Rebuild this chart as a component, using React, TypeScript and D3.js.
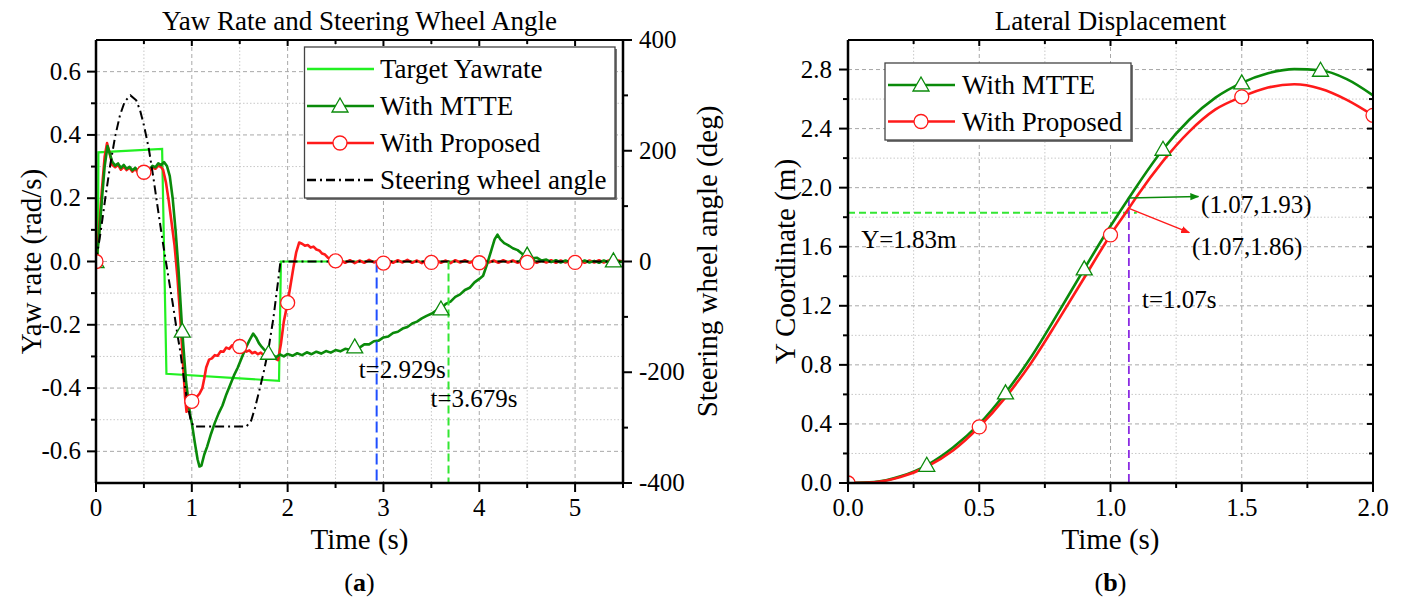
import React from 'react';
import * as d3 from 'd3';

const FONT = '"Liberation Serif", "Times New Roman", serif';

// ---------- Left chart data (a) ----------
const leftXTicks = [0, 1, 2, 3, 4, 5];
const leftYTicks = [-0.6, -0.4, -0.2, 0, 0.2, 0.4, 0.6];
const leftYLabels = ['-0.6', '-0.4', '-0.2', '0.0', '0.2', '0.4', '0.6'];
const steerTicks = [-400, -200, 0, 200, 400];
const steerLabels = ['-400', '-200', '0', '200', '400'];

const targetYaw: [number, number][] = [
  [0, 0], [0.02, 0], [0.025, 0.345], [0.69, 0.356], [0.735, -0.355], [1.91, -0.377], [1.93, 0], [5.5, 0],
];

const steerAngle: [number, number][] = [
  [0, 0], [0.05, 55], [0.1, 118], [0.15, 176], [0.2, 226], [0.25, 264], [0.3, 289], [0.36, 300],
  [0.42, 291], [0.46, 273], [0.5, 246], [0.55, 205], [0.6, 150], [0.65, 90], [0.7, 32], [0.75, -22],
  [0.8, -75], [0.85, -132], [0.88, -163], [0.92, -215], [0.96, -262], [0.99, -288], [1.02, -298],
  [1.57, -298], [1.62, -287], [1.66, -264], [1.7, -236], [1.75, -200], [1.8, -158], [1.85, -104],
  [1.9, -36], [1.925, 0], [5.5, 0],
];

const mtteYaw: [number, number][] = [
  [0, 0], [0.03, 0.07], [0.06, 0.19], [0.09, 0.3], [0.12, 0.365], [0.14, 0.345], [0.17, 0.315], [0.2, 0.303],
  [0.23, 0.31], [0.26, 0.296], [0.29, 0.305], [0.32, 0.293], [0.35, 0.299], [0.38, 0.288], [0.41, 0.296],
  [0.44, 0.287], [0.47, 0.294], [0.5, 0.29], [0.53, 0.297], [0.56, 0.291], [0.59, 0.302], [0.62, 0.298],
  [0.65, 0.31], [0.68, 0.305], [0.71, 0.314], [0.74, 0.302], [0.77, 0.27], [0.8, 0.2], [0.83, 0.1],
  [0.86, -0.02], [0.9, -0.22], [0.94, -0.38], [0.98, -0.48], [1.0, -0.51], [1.03, -0.57], [1.06, -0.625],
  [1.08, -0.648], [1.1, -0.645], [1.13, -0.61], [1.16, -0.585], [1.2, -0.545], [1.24, -0.51], [1.28, -0.48],
  [1.32, -0.455], [1.36, -0.42], [1.4, -0.39], [1.44, -0.36], [1.48, -0.335], [1.52, -0.305], [1.56, -0.275],
  [1.6, -0.25], [1.64, -0.228], [1.67, -0.24], [1.7, -0.258], [1.73, -0.27], [1.76, -0.28], [1.8, -0.29],
  [1.84, -0.295], [1.88, -0.302], [1.92, -0.294], [1.96, -0.3], [2.0, -0.292], [2.05, -0.298], [2.1, -0.29],
  [2.15, -0.296], [2.2, -0.287], [2.25, -0.293], [2.3, -0.285], [2.35, -0.291], [2.4, -0.283], [2.45, -0.288],
  [2.5, -0.28], [2.55, -0.284], [2.6, -0.276], [2.65, -0.279], [2.7, -0.27], [2.75, -0.272], [2.8, -0.262],
  [2.85, -0.262], [2.9, -0.252], [2.95, -0.25], [3.0, -0.24], [3.05, -0.237], [3.1, -0.226], [3.15, -0.222],
  [3.2, -0.212], [3.25, -0.207], [3.3, -0.196], [3.35, -0.19], [3.4, -0.18], [3.45, -0.172], [3.5, -0.165],
  [3.55, -0.155], [3.6, -0.15], [3.65, -0.134], [3.7, -0.127], [3.75, -0.112], [3.8, -0.104], [3.85, -0.09],
  [3.9, -0.083], [3.95, -0.066], [4.0, -0.055], [4.04, -0.045], [4.08, -0.01], [4.12, 0.03], [4.16, 0.07],
  [4.19, 0.085], [4.22, 0.07], [4.26, 0.058], [4.3, 0.052], [4.35, 0.042], [4.4, 0.036], [4.45, 0.024],
  [4.5, 0.02], [4.55, 0.01], [4.6, 0.012], [4.65, 0.003], [4.7, 0.006], [4.75, -0.002], [4.8, 0.004],
  [4.85, -0.003], [4.9, 0.003], [4.95, -0.004], [5.0, 0.002], [5.05, -0.004], [5.1, 0.003], [5.15, -0.003],
  [5.2, 0.002], [5.25, -0.004], [5.3, 0.003], [5.35, -0.003], [5.4, 0.002], [5.45, -0.003], [5.5, 0.001],
];

const propYaw: [number, number][] = [
  [0, 0], [0.03, 0.09], [0.06, 0.22], [0.09, 0.33], [0.115, 0.374], [0.14, 0.345], [0.17, 0.305], [0.2, 0.298],
  [0.23, 0.306], [0.26, 0.29], [0.29, 0.3], [0.32, 0.289], [0.35, 0.296], [0.38, 0.284], [0.41, 0.292],
  [0.44, 0.281], [0.47, 0.288], [0.5, 0.282], [0.53, 0.29], [0.56, 0.286], [0.59, 0.297], [0.62, 0.293],
  [0.65, 0.303], [0.68, 0.298], [0.7, 0.29], [0.73, 0.25], [0.76, 0.19], [0.79, 0.12], [0.82, 0.05],
  [0.85, -0.05], [0.88, -0.18], [0.91, -0.33], [0.93, -0.43], [0.945, -0.475], [0.97, -0.455], [1.0, -0.442],
  [1.04, -0.432], [1.08, -0.418], [1.11, -0.4], [1.13, -0.37], [1.15, -0.335], [1.18, -0.31], [1.21, -0.306],
  [1.24, -0.296], [1.27, -0.298], [1.3, -0.284], [1.33, -0.285], [1.36, -0.272], [1.39, -0.276], [1.42, -0.265],
  [1.45, -0.268], [1.48, -0.262], [1.51, -0.272], [1.54, -0.278], [1.57, -0.285], [1.6, -0.281], [1.63, -0.29],
  [1.66, -0.286], [1.69, -0.293], [1.72, -0.288], [1.75, -0.296], [1.78, -0.292], [1.81, -0.3], [1.84, -0.298],
  [1.87, -0.307], [1.9, -0.312], [1.93, -0.26], [1.96, -0.19], [2.0, -0.13], [2.03, -0.075], [2.06, -0.02],
  [2.09, 0.03], [2.12, 0.06], [2.15, 0.056], [2.18, 0.05], [2.21, 0.052], [2.24, 0.044], [2.27, 0.047],
  [2.3, 0.038], [2.33, 0.035], [2.36, 0.025], [2.39, 0.022], [2.42, 0.012], [2.46, 0.008], [2.5, 0.002],
  [2.55, 0.005], [2.6, -0.004], [2.65, 0.004], [2.7, -0.005], [2.75, 0.003], [2.8, -0.004], [2.85, 0.005],
  [2.9, -0.003], [2.95, 0.004], [3.0, -0.005], [3.05, 0.003], [3.1, -0.004], [3.15, 0.004], [3.2, -0.003],
  [3.25, 0.005], [3.3, -0.004], [3.35, 0.003], [3.4, -0.005], [3.45, 0.004], [3.5, -0.003], [3.55, 0.004],
  [3.6, -0.004], [3.65, 0.003], [3.7, -0.005], [3.75, 0.004], [3.8, -0.003], [3.85, 0.004], [3.9, -0.004],
  [3.95, 0.003], [4.0, -0.004], [4.05, 0.004], [4.1, -0.003], [4.15, 0.003], [4.2, -0.004], [4.25, 0.004],
  [4.3, -0.003], [4.35, 0.003], [4.4, -0.004], [4.45, 0.004], [4.5, -0.003], [4.55, 0.003], [4.6, -0.004],
  [4.65, 0.003], [4.7, -0.003], [4.75, 0.004], [4.8, -0.004], [4.85, 0.003], [4.9, -0.003], [4.95, 0.004],
  [5.0, -0.003], [5.05, 0.003], [5.1, -0.004], [5.15, 0.003], [5.2, -0.003], [5.25, 0.004], [5.3, -0.003],
  [5.35, 0.003], [5.4, -0.004], [5.45, 0.003], [5.5, 0],
];

const mtteMarkerTimesA = [0, 0.9, 1.8, 2.7, 3.6, 4.5, 5.4];
const propMarkerTimesA = [0, 0.5, 1.0, 1.5, 2.0, 2.5, 3.0, 3.5, 4.0, 4.5, 5.0];
const timeMarks = [2.929, 3.679];
const timeMarkLabels = ['t=2.929s', 't=3.679s'];

// ---------- Right chart data (b) ----------
const rightXTicks = [0, 0.5, 1.0, 1.5, 2.0];
const rightXLabels = ['0.0', '0.5', '1.0', '1.5', '2.0'];
const rightYTicks = [0, 0.4, 0.8, 1.2, 1.6, 2.0, 2.4, 2.8];
const rightYLabels = ['0.0', '0.4', '0.8', '1.2', '1.6', '2.0', '2.4', '2.8'];

const mtteY: [number, number][] = [
  [0, 0], [0.1, 0.006], [0.2, 0.045], [0.3, 0.12], [0.4, 0.24], [0.5, 0.4], [0.6, 0.61], [0.7, 0.86],
  [0.8, 1.15], [0.9, 1.45], [1.0, 1.74], [1.07, 1.93], [1.1, 2.01], [1.2, 2.26], [1.3, 2.46], [1.4, 2.61],
  [1.5, 2.71], [1.6, 2.775], [1.7, 2.803], [1.8, 2.795], [1.9, 2.735], [2.0, 2.625],
];
const propY: [number, number][] = [
  [0, 0], [0.1, 0.005], [0.2, 0.04], [0.3, 0.11], [0.4, 0.22], [0.5, 0.38], [0.6, 0.58], [0.7, 0.82],
  [0.8, 1.1], [0.9, 1.39], [1.0, 1.68], [1.07, 1.86], [1.1, 1.94], [1.2, 2.18], [1.3, 2.38], [1.4, 2.53],
  [1.5, 2.615], [1.6, 2.678], [1.7, 2.7], [1.8, 2.67], [1.9, 2.595], [2.0, 2.49],
];
const mtteMarkerTimesB = [0, 0.3, 0.6, 0.9, 1.2, 1.5, 1.8];
const propMarkerTimesB = [0, 0.5, 1.0, 1.5, 2.0];
const crossT = 1.07;
const targetY = 1.83;
const mtteCross = 1.93;
const propCross = 1.86;

// ---------- helpers ----------
const interp = (data: [number, number][], t: number) => {
  const i = d3.bisector((d: [number, number]) => d[0]).left(data, t);
  if (i <= 0) return data[0][1];
  if (i >= data.length) return data[data.length - 1][1];
  const [t0, v0] = data[i - 1];
  const [t1, v1] = data[i];
  return v0 + ((t - t0) / (t1 - t0)) * (v1 - v0);
};

const C = {
  target: '#22f022',
  mtte: '#0a8a0a',
  prop: '#ff1a1a',
  blue: '#1f4fff',
  lime: '#33e633',
  purple: '#8a2be2',
};

const TICK_FS = 25;
const TEXT_FS = 27;
const LABEL_FS = 29;

const gridMajor = { stroke: '#a8a8a8', strokeWidth: 1, strokeDasharray: '4 3' };
const gridMinor = { stroke: '#c8c8c8', strokeWidth: 1, strokeDasharray: '1.5 2' };

const Triangle = ({ x, y, color }: { x: number; y: number; color: string }) => (
  <path d={`M${x},${y - 8} L${x + 8},${y + 6} L${x - 8},${y + 6} Z`} fill="white" stroke={color} strokeWidth={1.3} />
);
const Circle = ({ x, y, color }: { x: number; y: number; color: string }) => (
  <circle cx={x} cy={y} r={7} fill="white" stroke={color} strokeWidth={1.3} />
);

function LeftChart() {
  const x = d3.scaleLinear().domain([0, 5.5]).range([96, 623]);
  const y = d3.scaleLinear().domain([-0.7, 0.7]).range([483, 40]);
  const yr = d3.scaleLinear().domain([-400, 400]).range([483, 40]);
  const line = d3.line<[number, number]>().x((d) => x(d[0])).y((d) => y(d[1]));
  const steerLine = d3.line<[number, number]>().x((d) => x(d[0])).y((d) => yr(d[1]));
  const [X0, X1] = x.range();
  const [Y1, Y0] = y.range();
  const vGrid = d3.range(0.5, 5.5, 0.5);
  const hGrid = d3.range(-0.6, 0.65, 0.1).map((v) => Math.round(v * 10) / 10);
  const xMinor = d3.range(0.5, 5.6, 1);
  const yMinor = [-0.5, -0.3, -0.1, 0.1, 0.3, 0.5];
  const rMinor = [-300, -100, 100, 300];

  return (
    <g fontFamily={FONT} fill="black">
      <defs>
        <clipPath id="clipA">
          <rect x={X0} y={Y0} width={X1 - X0} height={Y1 - Y0} />
        </clipPath>
      </defs>
      {vGrid.map((v) => (
        <line key={'vg' + v} x1={x(v)} x2={x(v)} y1={Y0} y2={Y1} {...(Number.isInteger(v) ? gridMajor : gridMinor)} />
      ))}
      {hGrid.map((v) => (
        <line key={'hg' + v} x1={X0} x2={X1} y1={y(v)} y2={y(v)} {...(Math.round(v * 10) % 2 === 0 ? gridMajor : gridMinor)} />
      ))}
      <g clipPath="url(#clipA)">
        <path d={line(targetYaw) || ''} fill="none" stroke={C.target} strokeWidth={2.2} />
        <path d={line(propYaw) || ''} fill="none" stroke={C.prop} strokeWidth={2.6} strokeLinejoin="round" />
        <path d={line(mtteYaw) || ''} fill="none" stroke={C.mtte} strokeWidth={2.6} strokeLinejoin="round" />
        <path d={steerLine(steerAngle) || ''} fill="none" stroke="black" strokeWidth={2} strokeDasharray="9 4 2 4" />
        {timeMarks.map((t, i) => (
          <line key={'tm' + t} x1={x(t)} x2={x(t)} y1={y(0)} y2={Y1} stroke={i === 0 ? C.blue : C.lime} strokeWidth={2}
            strokeDasharray={i === 0 ? '11 5' : '8 4'} />
        ))}
        {mtteMarkerTimesA.map((t) => (
          <Triangle key={'ta' + t} x={x(t)} y={y(interp(mtteYaw, t))} color={C.mtte} />
        ))}
        {propMarkerTimesA.map((t) => (
          <Circle key={'ca' + t} x={x(t)} y={y(interp(propYaw, t))} color={C.prop} />
        ))}
      </g>
      {timeMarks.map((t, i) => (
        <text key={'tl' + t} x={x(t) - 18} y={i === 0 ? 378 : 407} fontSize={TICK_FS}>{timeMarkLabels[i]}</text>
      ))}
      <line x1={X0} x2={X1} y1={Y0} y2={Y0} stroke="black" strokeWidth={2} />
      <line x1={X0} x2={X1} y1={Y1} y2={Y1} stroke="black" strokeWidth={2.5} />
      <line x1={X0} x2={X0} y1={Y0} y2={Y1} stroke="black" strokeWidth={2.5} />
      <line x1={X1} x2={X1} y1={Y0} y2={Y1} stroke="black" strokeWidth={2.5} />
      {leftXTicks.map((t) => (
        <g key={'xt' + t}>
          <line x1={x(t)} x2={x(t)} y1={Y1} y2={Y1 + 9} stroke="black" strokeWidth={2} />
          <line x1={x(t)} x2={x(t)} y1={Y0} y2={Y0 + 6} stroke="black" strokeWidth={2} />
          <text x={x(t)} y={Y1 + 33} fontSize={TICK_FS} textAnchor="middle">{t}</text>
        </g>
      ))}
      {xMinor.map((t) => (
        <g key={'xm' + t}>
          <line x1={x(t)} x2={x(t)} y1={Y1} y2={Y1 + 5} stroke="black" strokeWidth={2} />
          <line x1={x(t)} x2={x(t)} y1={Y0} y2={Y0 + 4} stroke="black" strokeWidth={2} />
        </g>
      ))}
      {leftYTicks.map((v, i) => (
        <g key={'yt' + v}>
          <line x1={X0 - 9} x2={X0} y1={y(v)} y2={y(v)} stroke="black" strokeWidth={2} />
          <text x={X0 - 15} y={y(v) + 8} fontSize={TICK_FS} textAnchor="end">{leftYLabels[i]}</text>
        </g>
      ))}
      {yMinor.map((v) => (
        <line key={'ym' + v} x1={X0 - 5} x2={X0} y1={y(v)} y2={y(v)} stroke="black" strokeWidth={2} />
      ))}
      {steerTicks.map((v, i) => (
        <g key={'st' + v}>
          <line x1={X1} x2={X1 + 9} y1={yr(v)} y2={yr(v)} stroke="black" strokeWidth={2} />
          <text x={X1 + 16} y={yr(v) + 8} fontSize={TICK_FS} textAnchor="start">{steerLabels[i]}</text>
        </g>
      ))}
      {rMinor.map((v) => (
        <line key={'rm' + v} x1={X1} x2={X1 + 5} y1={yr(v)} y2={yr(v)} stroke="black" strokeWidth={2} />
      ))}
      <text x={(X0 + X1) / 2} y={30} fontSize={TEXT_FS} textAnchor="middle">Yaw Rate and Steering Wheel Angle</text>
      <text x={(X0 + X1) / 2} y={549} fontSize={LABEL_FS} textAnchor="middle">Time (s)</text>
      <text transform={`translate(41,${(Y0 + Y1) / 2}) rotate(-90)`} fontSize={LABEL_FS} textAnchor="middle">Yaw rate (rad/s)</text>
      <text transform={`translate(717,${(Y0 + Y1) / 2}) rotate(-90)`} fontSize={LABEL_FS} textAnchor="middle">Steering wheel angle (deg)</text>
      <text x={(X0 + X1) / 2} y={591} fontSize={26} textAnchor="middle">(<tspan fontWeight="bold">a</tspan>)</text>
      <rect x={306.5} y={49} width={310.5} height={151} fill="#777" />
      <rect x={304.5} y={47} width={310.5} height={151} fill="white" stroke="#444" strokeWidth={1.3} />
      {[
        { label: 'Target Yawrate', color: C.target, mk: null },
        { label: 'With MTTE', color: C.mtte, mk: 'tri' },
        { label: 'With Proposed', color: C.prop, mk: 'cir' },
        { label: 'Steering wheel angle', color: 'black', mk: 'dash' },
      ].map((e, i) => {
        const cy = 69 + i * 37;
        return (
          <g key={e.label}>
            <line x1={307} x2={374} y1={cy} y2={cy} stroke={e.color} strokeWidth={2.6}
              strokeDasharray={e.mk === 'dash' ? '9 4 2 4' : undefined} />
            {e.mk === 'tri' && <Triangle x={340} y={cy} color={e.color} />}
            {e.mk === 'cir' && <Circle x={340} y={cy} color={e.color} />}
            <text x={380} y={cy + 9} fontSize={TEXT_FS}>{e.label}</text>
          </g>
        );
      })}
    </g>
  );
}

function RightChart() {
  const x = d3.scaleLinear().domain([0, 2]).range([848, 1373]);
  const y = d3.scaleLinear().domain([0, 3]).range([483, 40]);
  const line = d3.line<[number, number]>().x((d) => x(d[0])).y((d) => y(d[1])).curve(d3.curveMonotoneX);
  const [X0, X1] = x.range();
  const [Y1, Y0] = y.range();
  const vGrid = [0.25, 0.5, 0.75, 1.0, 1.25, 1.5, 1.75];
  const hGrid = d3.range(0.2, 3.0, 0.2).map((v) => Math.round(v * 10) / 10);
  const xMinor = [0.25, 0.75, 1.25, 1.75];
  const yMinor = [0.2, 0.6, 1.0, 1.4, 1.8, 2.2, 2.6];

  return (
    <g fontFamily={FONT} fill="black">
      <defs>
        <clipPath id="clipB">
          <rect x={X0} y={Y0} width={X1 - X0} height={Y1 - Y0} />
        </clipPath>
        <marker id="arrG" viewBox="0 0 10 10" refX={9} refY={5} markerWidth={9} markerHeight={9} orient="auto" markerUnits="userSpaceOnUse">
          <path d="M0,1 L10,5 L0,9 Z" fill={C.mtte} />
        </marker>
        <marker id="arrR" viewBox="0 0 10 10" refX={9} refY={5} markerWidth={9} markerHeight={9} orient="auto" markerUnits="userSpaceOnUse">
          <path d="M0,1 L10,5 L0,9 Z" fill={C.prop} />
        </marker>
      </defs>
      {vGrid.map((v) => (
        <line key={'vg' + v} x1={x(v)} x2={x(v)} y1={Y0} y2={Y1} {...(v % 0.5 === 0 ? gridMajor : gridMinor)} />
      ))}
      {hGrid.map((v) => (
        <line key={'hg' + v} x1={X0} x2={X1} y1={y(v)} y2={y(v)} {...(Math.round(v * 10) % 4 === 0 ? gridMajor : gridMinor)} />
      ))}
      <g clipPath="url(#clipB)">
        <line x1={X0} x2={x(crossT + 0.03)} y1={y(targetY)} y2={y(targetY)} stroke={C.lime} strokeWidth={1.8} strokeDasharray="7 4" />
        <line x1={x(crossT)} x2={x(crossT)} y1={y(mtteCross)} y2={Y1} stroke={C.purple} strokeWidth={1.8} strokeDasharray="8 4" />
        <path d={line(mtteY) || ''} fill="none" stroke={C.mtte} strokeWidth={2.6} />
        <path d={line(propY) || ''} fill="none" stroke={C.prop} strokeWidth={2.6} />
        {mtteMarkerTimesB.map((t) => (
          <Triangle key={'tb' + t} x={x(t)} y={y(interp(mtteY, t))} color={C.mtte} />
        ))}
        {propMarkerTimesB.map((t) => (
          <Circle key={'cb' + t} x={x(t)} y={y(interp(propY, t))} color={C.prop} />
        ))}
      </g>
      <line x1={x(crossT)} y1={y(mtteCross)} x2={x(1.335)} y2={y(1.94)} stroke={C.mtte} strokeWidth={1.4} markerEnd="url(#arrG)" />
      <line x1={x(crossT)} y1={y(propCross)} x2={x(1.3)} y2={y(1.695)} stroke={C.prop} strokeWidth={1.4} markerEnd="url(#arrR)" />
      <text x={x(1.345)} y={y(1.89) + 9} fontSize={25}>{`(${crossT},${mtteCross})`}</text>
      <text x={x(1.31)} y={y(1.605) + 9} fontSize={25}>{`(${crossT},${propCross})`}</text>
      <text x={x(0.05)} y={y(1.65) + 9} fontSize={TICK_FS}>{`Y=${targetY}m`}</text>
      <text x={x(1.12)} y={308} fontSize={TICK_FS}>{`t=${crossT}s`}</text>
      <line x1={X0} x2={X1} y1={Y0} y2={Y0} stroke="black" strokeWidth={2} />
      <line x1={X0} x2={X1} y1={Y1} y2={Y1} stroke="black" strokeWidth={2.5} />
      <line x1={X0} x2={X0} y1={Y0} y2={Y1} stroke="black" strokeWidth={2.5} />
      <line x1={X1} x2={X1} y1={Y0} y2={Y1} stroke="black" strokeWidth={2} />
      {rightXTicks.map((t, i) => (
        <g key={'xt' + t}>
          <line x1={x(t)} x2={x(t)} y1={Y1} y2={Y1 + 9} stroke="black" strokeWidth={2} />
          <line x1={x(t)} x2={x(t)} y1={Y0} y2={Y0 + 6} stroke="black" strokeWidth={2} />
          <text x={x(t)} y={Y1 + 33} fontSize={TICK_FS} textAnchor="middle">{rightXLabels[i]}</text>
        </g>
      ))}
      {xMinor.map((t) => (
        <g key={'xm' + t}>
          <line x1={x(t)} x2={x(t)} y1={Y1} y2={Y1 + 5} stroke="black" strokeWidth={2} />
          <line x1={x(t)} x2={x(t)} y1={Y0} y2={Y0 + 4} stroke="black" strokeWidth={2} />
        </g>
      ))}
      {rightYTicks.map((v, i) => (
        <g key={'yt' + v}>
          <line x1={X0 - 9} x2={X0} y1={y(v)} y2={y(v)} stroke="black" strokeWidth={2} />
          <line x1={X1 - 6} x2={X1} y1={y(v)} y2={y(v)} stroke="black" strokeWidth={2} />
          <text x={X0 - 16} y={y(v) + 8} fontSize={TICK_FS} textAnchor="end">{rightYLabels[i]}</text>
        </g>
      ))}
      {yMinor.map((v) => (
        <g key={'ym' + v}>
          <line x1={X0 - 5} x2={X0} y1={y(v)} y2={y(v)} stroke="black" strokeWidth={2} />
          <line x1={X1 - 4} x2={X1} y1={y(v)} y2={y(v)} stroke="black" strokeWidth={2} />
        </g>
      ))}
      <text x={(X0 + X1) / 2} y={30} fontSize={TEXT_FS} textAnchor="middle">Lateral Displacement</text>
      <text x={(X0 + X1) / 2} y={549} fontSize={LABEL_FS} textAnchor="middle">Time (s)</text>
      <text transform={`translate(795,${(Y0 + Y1) / 2}) rotate(-90)`} fontSize={LABEL_FS} textAnchor="middle">Y Coordinate (m)</text>
      <text x={(X0 + X1) / 2} y={591} fontSize={26} textAnchor="middle">(<tspan fontWeight="bold">b</tspan>)</text>
      <rect x={887} y={65} width={246} height={77} fill="#777" />
      <rect x={885} y={63} width={246} height={77} fill="white" stroke="#444" strokeWidth={1.3} />
      {[
        { label: 'With MTTE', color: C.mtte, mk: 'tri' },
        { label: 'With Proposed', color: C.prop, mk: 'cir' },
      ].map((e, i) => {
        const cy = 85 + i * 36.5;
        return (
          <g key={e.label}>
            <line x1={888} x2={955} y1={cy} y2={cy} stroke={e.color} strokeWidth={2.6} />
            {e.mk === 'tri' ? <Triangle x={921} y={cy} color={e.color} /> : <Circle x={921} y={cy} color={e.color} />}
            <text x={962} y={cy + 9} fontSize={TEXT_FS}>{e.label}</text>
          </g>
        );
      })}
    </g>
  );
}

export default function App() {
  return (
    <svg width={1404} height={601} style={{ position: 'absolute', left: 0, top: 0, background: 'white' }}>
      <rect x={0} y={0} width={1404} height={601} fill="white" />
      <LeftChart />
      <RightChart />
    </svg>
  );
}
